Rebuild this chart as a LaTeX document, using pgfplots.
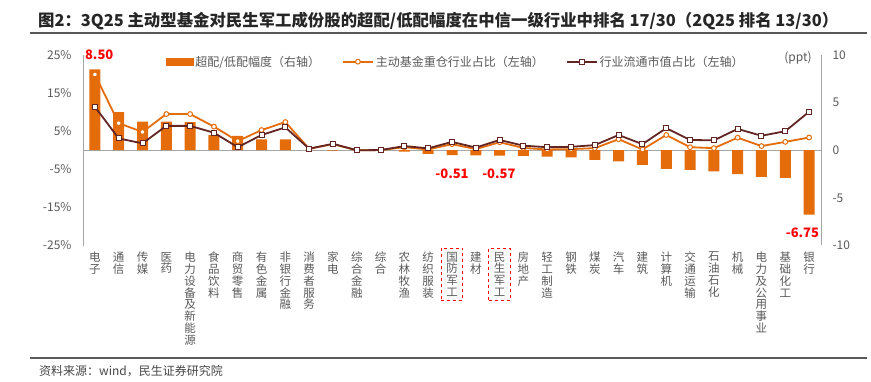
\documentclass[border=0pt]{standalone}
\usepackage{pgfplots}
\pgfplotsset{compat=1.18}
\usepackage{fontspec}
\setmainfont{Noto Sans CJK SC}
\definecolor{barorg}{HTML}{E46C0A}
\definecolor{brn}{HTML}{632523}
\definecolor{txtgray}{HTML}{595959}
\definecolor{axgray}{HTML}{A6A6A6}
\definecolor{ttl}{HTML}{262626}

\pgfplotstableread{
x bar
0 8.50
1 4.0
2 3.0
3 3.0
4 2.95
5 1.6
6 1.5
7 1.15
8 1.15
9 0.03
10 -0.05
11 0.0
12 0.0
13 -0.15
14 -0.38
15 -0.51
16 -0.54
17 -0.57
18 -0.60
19 -0.68
20 -0.75
21 -1.0
22 -1.18
23 -1.53
24 -1.95
25 -2.05
26 -2.23
27 -2.5
28 -2.79
29 -2.9
30 -6.75
}\bartable

\pgfplotstableread{
x fund mkt
0 19.9 11.4
1 7.1 3.1
2 4.8 1.8
3 9.5 6.4
4 9.5 6.4
5 6.2 4.6
6 2.4 0.8
7 5.3 4.0
8 7.4 6.0
9 0.4 0.4
10 1.6 1.7
11 0.0 0.0
12 0.05 0.05
13 0.8 1.1
14 0.2 0.5
15 1.6 2.2
16 0.3 0.7
17 2.1 2.7
18 0.6 1.2
19 0.2 0.8
20 0.3 0.9
21 0.55 1.35
22 2.9 4.0
23 0.2 1.6
24 4.0 5.8
25 0.8 2.7
26 0.55 2.6
27 3.3 5.6
28 1.1 3.8
29 2.2 5.0
30 3.35 10.1
}\linetable

\begin{document}
\begin{tikzpicture}
\useasboundingbox (0pt,-382pt) rectangle (871pt,0pt);
% title
\node[anchor=west, text=ttl, font=\bfseries\fontsize{16.4}{16.4}\selectfont, inner sep=0pt] at (38pt,-21pt)
 {图2：3Q25 主动型基金对民生军工成份股的超配/低配幅度在中信一级行业中排名 17/30（2Q25 排名 13/30）};
\draw[line width=1.5pt, txtgray] (30pt,-33pt) -- (867pt,-33pt);
\draw[line width=1.5pt, txtgray] (30pt,-358pt) -- (867pt,-358pt);
\node[anchor=west, text=txtgray!80!black, font=\fontsize{12}{12}\selectfont, inner sep=0pt] at (39pt,-371pt)
 {资料来源：wind，民生证券研究院};
\node[text=txtgray, font=\fontsize{12}{12}\selectfont, inner sep=0pt] at (798pt,-58pt) {(ppt)};

% right axis with bars
\begin{axis}[
 at={(83pt,-245.5pt)}, anchor=south west,
 width=738pt, height=190.5pt, scale only axis,
 xmin=-0.5, xmax=30.5, ymin=-10, ymax=10,
 clip=false,
 axis y line*=right, axis x line=none,
 y axis line style={axgray, line width=1pt},
 ytick={-10,-5,0,5,10},
 major tick length=0pt,
 yticklabel style={text=txtgray, font=\fontsize{12}{12}\selectfont, xshift=8pt},
 /pgf/number format/assume math mode=true,
]
\draw[axgray, line width=1pt] (axis cs:-0.5,0) -- (axis cs:30.5,0);
\addplot[ybar, bar width=11pt, fill=barorg, draw=none] table[x=x, y=bar] {\bartable};
\node[text=red, font=\bfseries\fontsize{13}{13}\selectfont] at (axis cs:0.18,10.05) {8.50};
\node[text=red, font=\bfseries\fontsize{13}{13}\selectfont] at (axis cs:15,-2.44) {-0.51};
\node[text=red, font=\bfseries\fontsize{13}{13}\selectfont] at (axis cs:16.97,-2.44) {-0.57};
\node[text=red, font=\bfseries\fontsize{13}{13}\selectfont] at (axis cs:29.72,-8.68) {-6.75};
\end{axis}

% left axis with lines
\begin{axis}[
 at={(83pt,-245.5pt)}, anchor=south west,
 width=738pt, height=190.5pt, scale only axis,
 xmin=-0.5, xmax=30.5, ymin=-25, ymax=25,
 clip=false,
 axis y line*=left, axis x line*=bottom,
 x axis line style={draw=none},
 y axis line style={axgray, line width=1pt},
 ytick={-25,-15,-5,5,15,25},
 yticklabel={\pgfmathprintnumber{\tick}\%},
 major tick length=0pt,
 yticklabel style={text=txtgray, font=\fontsize{12}{12}\selectfont, xshift=-8pt},
 /pgf/number format/assume math mode=true,
 xtick={0,...,30},
 xticklabels={{电\\子},{通\\信},{传\\媒},{医\\药},{电\\力\\设\\备\\及\\新\\能\\源},{食\\品\\饮\\料},{商\\贸\\零\\售},{有\\色\\金\\属},{非\\银\\行\\金\\融},{消\\费\\者\\服\\务},{家\\电},{综\\合\\金\\融},{综\\合},{农\\林\\牧\\渔},{纺\\织\\服\\装},{},{建\\材},{},{房\\地\\产},{轻\\工\\制\\造},{钢\\铁},{煤\\炭},{汽\\车},{建\\筑},{计\\算\\机},{交\\通\\运\\输},{石\\油\\石\\化},{机\\械},{电\\力\\及\\公\\用\\事\\业},{基\\础\\化\\工},{银\\行}},
 xticklabel style={align=center, anchor=north, text=txtgray, font=\fontsize{11.5}{11.8}\selectfont, yshift=-3pt},
 extra x ticks={15,17},
 extra x tick labels={{国\\防\\军\\工},{民\\生\\军\\工}},
 extra x tick style={xticklabel style={draw=red, dashed, line width=1pt, inner xsep=5pt, inner ysep=4pt, yshift=1pt}},
 legend columns=3,
 legend style={at={(axis description cs:0.108,0.965)}, anchor=west, draw=none, fill=none,
   font=\fontsize{12}{12}\selectfont, text=txtgray,
   /tikz/every even column/.append style={column sep=20pt}},
 legend cell align=left,
 legend image code/.code={\draw[mark repeat=2,mark phase=2] plot coordinates {(0pt,0pt) (15pt,0pt) (30pt,0pt)};},
]
\addlegendimage{legend image code/.code={\fill[barorg] (0pt,-3.5pt) rectangle (27pt,3.5pt);}}
\addlegendentry{超配/低配幅度（右轴）}
\addplot[barorg, line width=1.8pt, mark=*, mark size=2.4pt, mark options={fill=white, draw=barorg, line width=1pt, solid}] table[x=x, y=fund] {\linetable};
\addlegendentry{主动基金重仓行业占比（左轴）}
\addplot[brn, line width=1.8pt, mark=square*, mark size=2.5pt, mark options={fill=white, draw=brn, line width=1pt, solid}] table[x=x, y=mkt] {\linetable};
\addlegendentry{行业流通市值占比（左轴）}
\end{axis}
\end{tikzpicture}
\end{document}
